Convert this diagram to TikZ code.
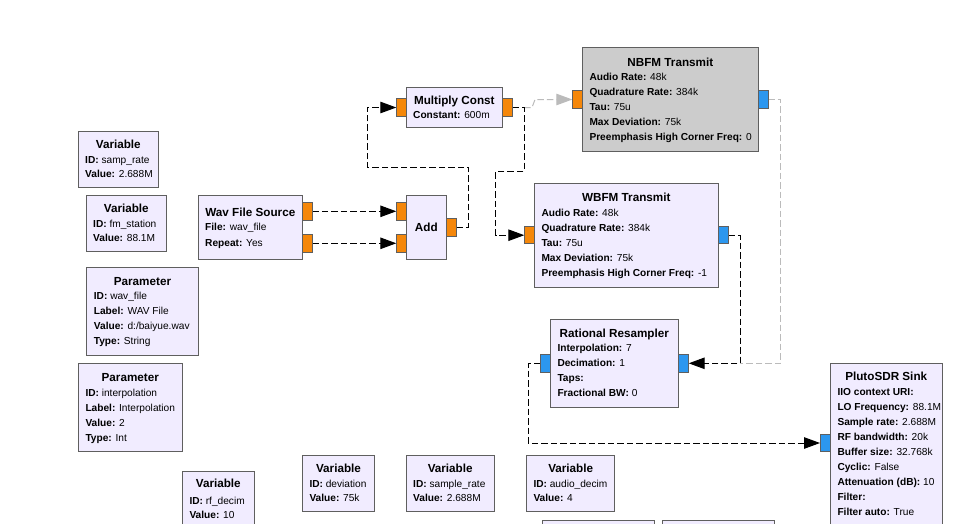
\documentclass[tikz,border=0pt]{standalone}
\usepackage{fontspec}
\setmainfont{Liberation Sans}
\usetikzlibrary{arrows.meta}
\definecolor{blockfill}{HTML}{F1ECFF}
\definecolor{disfill}{HTML}{CCCCCC}
\definecolor{bordergray}{HTML}{5F5F5F}
\definecolor{portorange}{HTML}{F5870A}
\definecolor{portblue}{HTML}{2C97EF}
\definecolor{conngray}{HTML}{BBBBBB}
\begin{document}
\begin{tikzpicture}[x=1pt,y=-1pt,
  blk/.style={draw=bordergray, fill=blockfill, line width=1pt, inner sep=0pt, outer sep=0pt, anchor=north west},
  disblk/.style={blk, fill=disfill},
  ttl/.style={font={\fontsize{11.7}{13}\selectfont\bfseries}, inner sep=0pt, anchor=base},
  prm/.style={font={\fontsize{10.15}{12}\selectfont}, inner sep=0pt, anchor=base west},
  portf/.style={draw=bordergray, fill=portorange, line width=1pt, minimum width=10pt, minimum height=17.5pt, inner sep=0pt, outer sep=0pt},
  portc/.style={portf, fill=portblue},
  conn/.style={draw=black, line width=1pt, dash pattern=on 6.5pt off 3pt},
  dconn/.style={conn, draw=conngray},
  arr/.style={-{Triangle[length=16pt,width=11.5pt]}}
]
\useasboundingbox (0,0) rectangle (959,523);
\clip (0,0) rectangle (959,523);
\fill[white] (0,0) rectangle (959,523);

% ---------- blocks ----------
\node[blk, minimum width=80pt, minimum height=55.6pt] (samprate) at (78.3,131.7) {};
\node[blk, minimum width=80pt, minimum height=56pt] (fmstation) at (86.3,195.3) {};
\node[blk, minimum width=104pt, minimum height=63.7pt] (wavsrc) at (198.3,195.3) {};
\node[blk, minimum width=40.7pt, minimum height=63.7pt] (addb) at (406,195.3) {};
\node[blk, minimum width=96.7pt, minimum height=40pt] (mulb) at (406,87.3) {};
\node[disblk, minimum width=176pt, minimum height=103.7pt] (nbfm) at (582.3,47.3) {};
\node[blk, minimum width=184pt, minimum height=104pt] (wbfm) at (534.3,183.3) {};
\node[blk, minimum width=128.7pt, minimum height=88pt] (resamp) at (550,319.3) {};
\node[blk, minimum width=111.6pt, minimum height=88.4pt] (parwav) at (86.7,267.3) {};
\node[blk, minimum width=104pt, minimum height=88.4pt] (parint) at (78.3,363.3) {};
\node[blk, minimum width=112.3pt, minimum height=180pt] (pluto) at (830,363.3) {};
\node[blk, minimum width=72pt, minimum height=60pt] (rfdecim) at (182.3,471) {};
\node[blk, minimum width=71.6pt, minimum height=56pt] (deviation) at (302.7,455.5) {};
\node[blk, minimum width=88.3pt, minimum height=56pt] (samplerate) at (406,455.5) {};
\node[blk, minimum width=88.3pt, minimum height=56pt] (audiodecim) at (526.5,455.5) {};
\node[blk, minimum width=112pt, minimum height=30pt] (partA) at (542.3,520) {};
\node[blk, minimum width=112pt, minimum height=30pt] (partB) at (662.3,520) {};

% ---------- ports ----------
\node[portf] (wavo1) at (307.3,211.3) {};
\node[portf] (wavo2) at (307.3,243.3) {};
\node[portf] (addi1) at (401.3,211.3) {};
\node[portf] (addi2) at (401.3,243.3) {};
\node[portf] (addo) at (451.7,227.3) {};
\node[portf] (muli) at (401.3,107.5) {};
\node[portf] (mulo) at (507.7,107.5) {};
\node[portf] (nbi) at (577.3,99.5) {};
\node[portc] (nbo) at (763.3,99.5) {};
\node[portf] (wbi) at (529.3,235.2) {};
\node[portc] (wbo) at (723.3,235.2) {};
\node[portc] (rrl) at (545,363.3) {};
\node[portc] (rrr) at (683.7,363.3) {};
\node[portc] (plin) at (825,443) {};

\coordinate (mulstub) at (524,107.5);
\coordinate (mergept) at (740,363.3);

% ---------- connections ----------
\draw[dconn, -{Triangle[length=16pt,width=11.5pt,fill=conngray]}] (mulstub) -- (532,107.5) -- (535,99.5) -- (nbi.west);
\draw[dconn] (nbo.east) -- (780.7,99.5) -- (780.7,363.3) -- (mergept);
\draw[conn, arr] (wavo1.east) -- (addi1.west);
\draw[conn, arr] (wavo2.east) -- (addi2.west);
\draw[conn, arr] (addo.east) -- (468.3,227.3) -- (468.3,167) -- (367.3,167) |- (muli.west);
\draw[conn, arr] (mulo.east) -- (mulstub) -- (524,171.5) -- (495.7,171.5) |- (wbi.west);
\draw[conn, arr] (wbo.east) -- (740,235.2) -- (mergept) -- (rrr.east);
\draw[conn, arr] (rrl.west) -- (528.3,363.3) |- (plin.west);

% ---------- redraw ports on top ----------
\foreach \p/\s in {wavo1/portf,wavo2/portf,addi1/portf,addi2/portf,addo/portf,muli/portf,mulo/portf,nbi/portf,nbo/portc,wbi/portf,wbo/portc,rrl/portc,rrr/portc,plin/portc}
  \node[\s] at (\p) {};

% ---------- texts ----------
\node[ttl] (t1) at (118.3,148.2) {Variable};
\node[prm] (t2) at (85,163.6) {\textbf{ID:} samp\_rate};
\node[prm] (t3) at (85,177.9) {\textbf{Value:} 2.688M};
\node[ttl] (t4) at (126.3,212.2) {Variable};
\node[prm] (t5) at (93,227.3) {\textbf{ID:} fm\_station};
\node[prm] (t6) at (93,241.7) {\textbf{Value:} 88.1M};
\node[ttl] (t7) at (250.3,216.2) {Wav File Source};
\node[prm] (t8) at (205,230.9) {\textbf{File:} wav\_file};
\node[prm] (t9) at (205,246.3) {\textbf{Repeat:} Yes};
\node[ttl] (t10) at (426.3,231.2) {Add};
\node[ttl] (t11) at (454.3,104.2) {Multiply Const};
\node[prm] (t12) at (413,118.9) {\textbf{Constant:} 600m};
\node[ttl] (t13) at (670.3,66.5) {NBFM Transmit};
\node[prm] (t14) at (589.3,80.9) {\textbf{Audio Rate:} 48k};
\node[prm] (t15) at (589.3,95.9) {\textbf{Quadrature Rate:} 384k};
\node[prm] (t16) at (589.3,110.9) {\textbf{Tau:} 75u};
\node[prm] (t17) at (589.3,125.9) {\textbf{Max Deviation:} 75k};
\node[prm] (t18) at (589.3,140.9) {\textbf{Preemphasis High Corner Freq:} 0};
\node[ttl] (t19) at (626.3,201.5) {WBFM Transmit};
\node[prm] (t20) at (541.3,216.9) {\textbf{Audio Rate:} 48k};
\node[prm] (t21) at (541.3,231.9) {\textbf{Quadrature Rate:} 384k};
\node[prm] (t22) at (541.3,246.9) {\textbf{Tau:} 75u};
\node[prm] (t23) at (541.3,261.9) {\textbf{Max Deviation:} 75k};
\node[prm] (t24) at (541.3,276.9) {\textbf{Preemphasis High Corner Freq:} -1};
\node[ttl] (t25) at (614.3,337.5) {Rational Resampler};
\node[prm] (t26) at (557.3,351.9) {\textbf{Interpolation:} 7};
\node[prm] (t27) at (557.3,366.9) {\textbf{Decimation:} 1};
\node[prm] (t28) at (557.3,381.9) {\textbf{Taps:}};
\node[prm] (t29) at (557.3,396.9) {\textbf{Fractional BW:} 0};
\node[ttl] (t30) at (142.5,285.9) {Parameter};
\node[prm] (t31) at (93.7,299.6) {\textbf{ID:} wav\_file};
\node[prm] (t32) at (93.7,314.6) {\textbf{Label:} WAV File};
\node[prm] (t33) at (93.7,329.6) {\textbf{Value:} d:/baiyue.wav};
\node[prm] (t34) at (93.7,344.6) {\textbf{Type:} String};
\node[ttl] (t35) at (130.3,381.5) {Parameter};
\node[prm] (t36) at (85.3,396.3) {\textbf{ID:} interpolation};
\node[prm] (t37) at (85.3,411.3) {\textbf{Label:} Interpolation};
\node[prm] (t38) at (85.3,426.3) {\textbf{Value:} 2};
\node[prm] (t39) at (85.3,441.1) {\textbf{Type:} Int};
\node[ttl] (t40) at (886.2,380.2) {PlutoSDR Sink};
\node[prm] (t41) at (837.3,395.3) {\textbf{IIO context URI:}};
\node[prm] (t42) at (837.3,410.3) {\textbf{LO Frequency:} 88.1M};
\node[prm] (t43) at (837.3,425.3) {\textbf{Sample rate:} 2.688M};
\node[prm] (t44) at (837.3,440.3) {\textbf{RF bandwidth:} 20k};
\node[prm] (t45) at (837.3,455.3) {\textbf{Buffer size:} 32.768k};
\node[prm] (t46) at (837.3,470.3) {\textbf{Cyclic:} False};
\node[prm] (t47) at (837.3,485.3) {\textbf{Attenuation (dB):} 10};
\node[prm] (t48) at (837.3,500.3) {\textbf{Filter:}};
\node[prm] (t49) at (837.3,515.3) {\textbf{Filter auto:} True};
\node[ttl] (t50) at (218.3,487.7) {Variable};
\node[prm] (t51) at (189.3,504) {\textbf{ID:} rf\_decim};
\node[prm] (t52) at (189.3,518.6) {\textbf{Value:} 10};
\node[ttl] (t53) at (338.5,472.5) {Variable};
\node[prm] (t54) at (309.3,487.2) {\textbf{ID:} deviation};
\node[prm] (t55) at (309.3,501.9) {\textbf{Value:} 75k};
\node[ttl] (t56) at (450.2,472.5) {Variable};
\node[prm] (t57) at (413,487.2) {\textbf{ID:} sample\_rate};
\node[prm] (t58) at (413,501.9) {\textbf{Value:} 2.688M};
\node[ttl] (t59) at (570.7,472.5) {Variable};
\node[prm] (t60) at (533.3,487.2) {\textbf{ID:} audio\_decim};
\node[prm] (t61) at (533.3,501.9) {\textbf{Value:} 4};
\end{tikzpicture}
\end{document}
